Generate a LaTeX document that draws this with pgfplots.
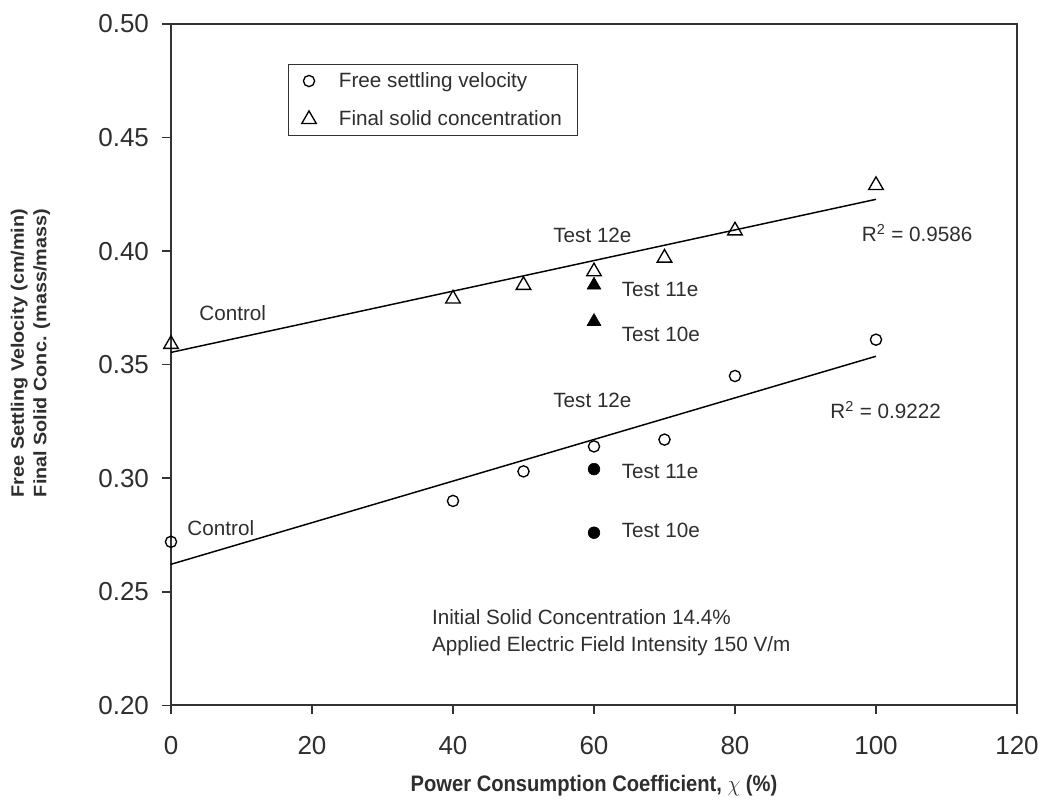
\documentclass[border=0pt]{standalone}
\usepackage{fontspec}
\setmainfont{Liberation Sans}
\usepackage{pgfplots}
\pgfplotsset{compat=1.18}
\usepackage{graphicx}
\definecolor{txt}{HTML}{2E2E2E}
\definecolor{axc}{HTML}{333333}
\newcommand{\annot}{\fontsize{15.5}{18}\selectfont}
\begin{document}
\begin{tikzpicture}
\begin{axis}[
  name=ax,
  scale only axis, width=634.5pt, height=511pt,
  xmin=0, xmax=120, ymin=0.2, ymax=0.5,
  xtick={0,20,40,60,80,100,120},
  ytick={0.2,0.25,0.3,0.35,0.4,0.45,0.5},
  yticklabels={0.20,0.25,0.30,0.35,0.40,0.45,0.50},
  xtick pos=left, ytick pos=left,
  tick align=outside, major tick length=6.5pt,
  axis line style={axc, line width=1.6pt},
  every tick/.style={axc, line width=1.2pt},
  /pgf/number format/assume math mode=true,
  tick label style={font=\fontsize{19.5}{22}\selectfont, text=txt},
  xticklabel style={yshift=-13pt},
  yticklabel style={xshift=-6.5pt},
  every axis x label/.style={at={(rel axis cs:0.5,0)}, anchor=center, yshift=-60pt},
  every axis y label/.style={at={(rel axis cs:-0.166,0.517)}, rotate=90, anchor=center, align=center,
    font=\fontsize{13.5}{16.9}\selectfont\bfseries},
  xlabel={\scalebox{0.9}[1]{\fontsize{16.8}{20}\selectfont\bfseries Power Consumption Coefficient, $\chi$ (\%)}},
  ylabel={\scalebox{1.1}[1]{Free Settling Velocity (cm/min)}\\ \scalebox{1.1}[1]{Final Solid Conc. (mass/mass)}},
  label style={text=txt},
  legend style={at={(rel axis cs:0.138,0.9415)}, anchor=north west, draw=axc, line width=1pt,
    font=\annot, text=txt, row sep=12pt, column sep=15pt, inner xsep=10pt, inner ysep=4pt},
  legend cell align=left,
  clip=false,
]
\addplot[only marks, mark=o, mark size=4.2pt, line width=1pt, black]
  coordinates {(0,0.272) (40,0.290) (50,0.303) (60,0.314) (70,0.317) (80,0.345) (100,0.361)};
\addlegendentry{Free settling velocity}
\addplot[only marks, mark=triangle, mark size=6.3pt, line width=1pt, black]
  coordinates {(0,0.359) (40,0.379) (50,0.385) (60,0.391) (70,0.397) (80,0.409) (100,0.429)};
\addlegendentry{Final solid concentration}
\addplot[only marks, mark=*, mark size=4.4pt, black, forget plot]
  coordinates {(60,0.304) (60,0.276)};
\addplot[only marks, mark=triangle*, mark size=6pt, black, forget plot]
  coordinates {(60,0.385) (60,0.369)};
\addplot[black, line width=1.1pt, forget plot] coordinates {(0,0.3554) (100,0.4228)};
\addplot[black, line width=1.1pt, forget plot] coordinates {(0,0.2621) (100,0.3537)};

\begin{scope}[every node/.style={font=\annot, text=txt, anchor=base west, inner sep=0pt}]
\node at (axis cs:4.0,0.3696) {Control};
\node at (axis cs:2.3,0.2746) {Control};
\node at (axis cs:54.2,0.4037) {Test 12e};
\node at (axis cs:63.9,0.3799) {Test 11e};
\node at (axis cs:63.9,0.3604) {Test 10e};
\node at (axis cs:97.97,0.4041) {R\textsuperscript{2} = 0.9586};
\node at (axis cs:54.2,0.3311) {Test 12e};
\node at (axis cs:93.5,0.3263) {R\textsuperscript{2} = 0.9222};
\node at (axis cs:63.9,0.2999) {Test 11e};
\node at (axis cs:63.9,0.2741) {Test 10e};
\node at (axis cs:37.0,0.2357) {Initial Solid Concentration 14.4\%};
\node at (axis cs:37.0,0.2238) {Applied Electric Field Intensity 150 V/m};
\end{scope}
\end{axis}
\pgfresetboundingbox
\path[use as bounding box] ([xshift=-128.25pt, yshift=-71.25pt]ax.south west) rectangle ([xshift=19.5pt, yshift=18pt]ax.north east);
\end{tikzpicture}
\end{document}
